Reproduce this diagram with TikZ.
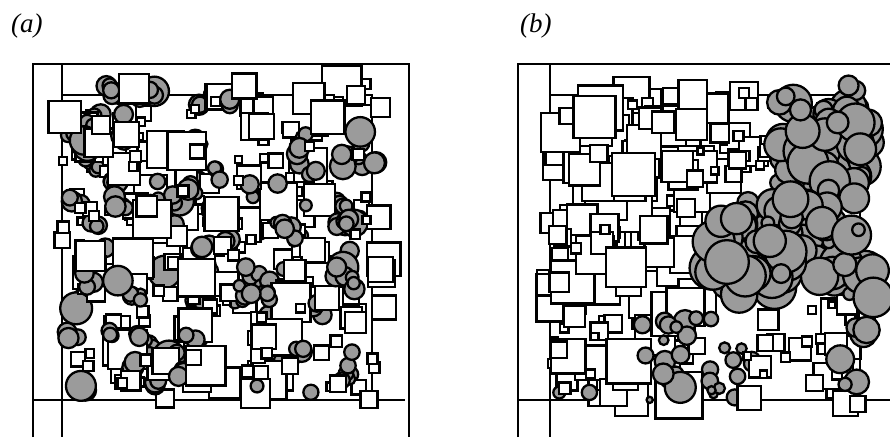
\documentclass[tikz,border=0pt]{standalone}
\usepackage{fontspec}
\setmainfont{Liberation Serif}
\definecolor{dotgray}{RGB}{155,155,155}
\tikzset{
  sq/.style={draw=black, fill=white, line width=2.3pt},
  dot/.style={draw=black, fill=dotgray, line width=2.3pt},
  frameline/.style={draw=black, line width=1.8pt},
  axisline/.style={draw=black, line width=2.6pt},
  lab/.style={font=\itshape\fontsize{27}{30}\selectfont, anchor=base west, inner sep=0pt}
}
% square: center x, center y, side
\newcommand\mysq[3]{\draw[sq] ({#1-#3/2},{#2-#3/2}) rectangle ++(#3,#3);}
\newcommand\mydot[3]{\draw[dot] (#1,#2) circle (#3);}
\begin{document}
\begin{tikzpicture}[x=1pt,y=-1pt]
\useasboundingbox (0,0) rectangle (890,437);
\node[lab] (la) at (11,32) {(a)};
\node[lab] (lb) at (520,32) {(b)};

% ---------------- panel (a) ----------------
\begin{scope}
\draw[frameline] (33,437) -- (33,64) -- (409,64) -- (409,437);
\draw[frameline] (62,95) -- (372,95) -- (372,400);
\draw[axisline] (62,64) -- (62,437);
\draw[axisline] (33,400) -- (405,400);
\pgfmathsetseed{7}
\foreach \i in {1,...,330}{
  \pgfmathtruncatemacro\k{100*rnd}
  \ifnum\k<68
    \pgfmathtruncatemacro\m{100*rnd}
    \ifnum\m<38
      \pgfmathsetmacro\s{7+5*rnd}
    \else
      \pgfmathsetmacro\s{14+26*rnd^1.6}
    \fi
    \pgfmathsetmacro\x{60+325*rnd}
    \pgfmathsetmacro\y{82+318*rnd}
    \mysq{\x}{\y}{\s}
  \else
    \pgfmathsetmacro\cx{68+305*rnd}
    \pgfmathsetmacro\cy{88+310*rnd}
    \pgfmathtruncatemacro\n{1+3.6*rnd}
    \foreach \j in {1,...,\n}{
      \pgfmathtruncatemacro\m{100*rnd}
      \ifnum\m<7
        \pgfmathsetmacro\r{12+5*rnd}
      \else
        \pgfmathsetmacro\r{5.5+5*rnd}
      \fi
      \pgfmathsetmacro\px{\cx+14*(rnd-0.5)}
      \pgfmathsetmacro\py{\cy+14*(rnd-0.5)}
      \mydot{\px}{\py}{\r}
    }
  \fi
}
\end{scope}

% ---------------- panel (b) ----------------
\begin{scope}[xshift=488pt]
\draw[frameline] (30,437) -- (30,64) -- (410,64) -- (410,437);
\draw[frameline] (62,95) -- (372,95) -- (372,400);
\draw[axisline] (62,64) -- (62,437);
\draw[axisline] (30,400) -- (410,400);
\pgfmathsetseed{23}
% left block of squares with a few circles
\foreach \i in {1,...,150}{
  \pgfmathtruncatemacro\k{100*rnd}
  \ifnum\k<92
    \pgfmathtruncatemacro\m{100*rnd}
    \ifnum\m<25
      \pgfmathsetmacro\s{7+5*rnd}
    \else
      \pgfmathsetmacro\s{16+32*rnd^1.5}
    \fi
    \pgfmathsetmacro\x{62+150*rnd}
    \pgfmathsetmacro\y{92+312*rnd}
    \mysq{\x}{\y}{\s}
  \else
    \pgfmathsetmacro\r{4+8*rnd}
    \pgfmathsetmacro\x{60+150*rnd}
    \pgfmathsetmacro\y{170+230*rnd}
    \mydot{\x}{\y}{\r}
  \fi
}
% top middle squares
\foreach \i in {1,...,32}{
  \pgfmathtruncatemacro\m{100*rnd}
  \ifnum\m<50
    \pgfmathsetmacro\s{6+6*rnd}
  \else
    \pgfmathsetmacro\s{14+24*rnd}
  \fi
  \pgfmathsetmacro\x{188+80*rnd}
  \pgfmathsetmacro\y{92+95*rnd}
  \mysq{\x}{\y}{\s}
}
% small squares right-top gap
\foreach \i in {1,...,12}{
  \pgfmathsetmacro\s{6+10*rnd}
  \pgfmathsetmacro\x{270+70*rnd}
  \pgfmathsetmacro\y{100+95*rnd}
  \mysq{\x}{\y}{\s}
}
% scattered circles lower middle
\foreach \i in {1,...,28}{
  \pgfmathtruncatemacro\m{100*rnd}
  \ifnum\m<15
    \pgfmathsetmacro\r{12+5*rnd}
  \else
    \pgfmathsetmacro\r{3+8*rnd}
  \fi
  \pgfmathsetmacro\x{150+115*rnd}
  \pgfmathsetmacro\y{300+100*rnd}
  \mydot{\x}{\y}{\r}
}
% lower right squares
\foreach \i in {1,...,32}{
  \pgfmathtruncatemacro\m{100*rnd}
  \ifnum\m<40
    \pgfmathsetmacro\s{6+6*rnd}
  \else
    \pgfmathsetmacro\s{14+24*rnd}
  \fi
  \pgfmathsetmacro\x{255+115*rnd}
  \pgfmathsetmacro\y{295+110*rnd}
  \mysq{\x}{\y}{\s}
}
% few circles lower right
\foreach \i in {1,...,6}{
  \pgfmathsetmacro\r{6+8*rnd}
  \pgfmathsetmacro\x{340+45*rnd}
  \pgfmathsetmacro\y{300+100*rnd}
  \mydot{\x}{\y}{\r}
}
% big circle cluster upper right
\foreach \i in {1,...,50}{
  \pgfmathsetmacro\r{8+14*rnd}
  \pgfmathsetmacro\x{290+95*rnd}
  \pgfmathsetmacro\y{85+110*rnd}
  \mydot{\x}{\y}{\r}
}
% big circle cluster middle
\foreach \i in {1,...,85}{
  \pgfmathtruncatemacro\m{100*rnd}
  \ifnum\m<25
    \pgfmathsetmacro\r{4+5*rnd}
  \else
    \pgfmathsetmacro\r{9+13*rnd}
  \fi
  \pgfmathsetmacro\x{222+165*rnd}
  \pgfmathsetmacro\y{195+105*rnd}
  \mydot{\x}{\y}{\r}
}
\end{scope}
\end{tikzpicture}
\end{document}
